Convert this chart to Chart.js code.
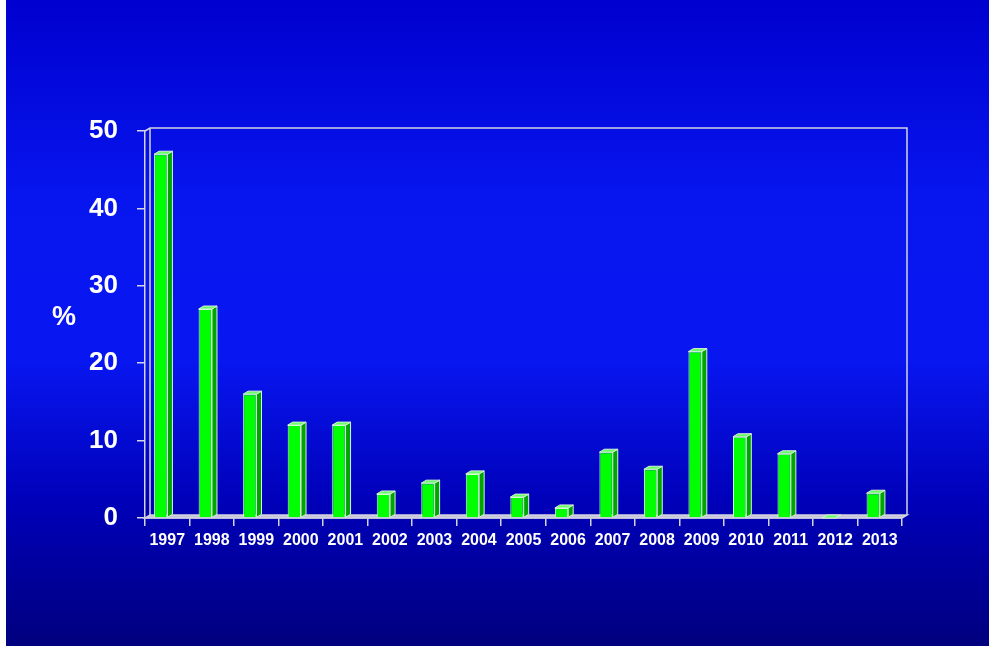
<!DOCTYPE html>
<html>
<head>
<meta charset="utf-8">
<script src="https://cdn.jsdelivr.net/npm/chart.js@4/dist/chart.umd.min.js"></script>
<style>
  html, body { margin: 0; padding: 0; background: #ffffff; }
  #wrap { position: absolute; left: 6px; top: 0; width: 983px; height: 646px; }
</style>
</head>
<body>
<div id="wrap"><canvas id="chart-1"></canvas></div>
<script>
var years = ["1997", "1998", "1999", "2000", "2001", "2002", "2003", "2004", "2005",
    "2006", "2007", "2008", "2009", "2010", "2011", "2012", "2013"];
var percent_values = [47, 27, 16, 12, 12, 3.1, 4.5, 5.7, 2.7, 1.3, 8.5, 6.3, 21.5, 10.5, 8.3, 0, 3.2];
var y_min = 0;
var y_max = 50;
var y_step = 10;

var depth_x = 5;
var depth_y = 3;
var bar_shift = -6.5;
var line_color = "#d4d4e4";

// background + 3d box + bar sides
var box3d = {
    id: "box3d",
    beforeDraw: function(chart) {
        var c = chart.ctx;
        var g = c.createLinearGradient(0, 0, 0, chart.height);
        g.addColorStop(0, "#0000cf");
        g.addColorStop(0.3, "#0715ee");
        g.addColorStop(0.55, "#0817f2");
        g.addColorStop(0.78, "#0000b8");
        g.addColorStop(1, "#00007e");
        c.save();
        c.fillStyle = g;
        c.fillRect(0, 0, chart.width, chart.height);
        c.restore();
    },
    beforeDatasetsDraw: function(chart) {
        var c = chart.ctx;
        var a = chart.chartArea;
        c.save();
        c.strokeStyle = line_color;
        c.lineWidth = 1.5;
        // floor
        c.fillStyle = "#c4c4d8";
        c.beginPath();
        c.moveTo(a.left, a.bottom);
        c.lineTo(a.right, a.bottom);
        c.lineTo(a.right + depth_x, a.bottom - depth_y);
        c.lineTo(a.left + depth_x, a.bottom - depth_y);
        c.closePath();
        c.fill();
        c.stroke();
        // left wall + back frame
        c.beginPath();
        c.moveTo(a.left, a.top);
        c.lineTo(a.left + depth_x, a.top - depth_y);
        c.lineTo(a.right + depth_x, a.top - depth_y);
        c.lineTo(a.right + depth_x, a.bottom - depth_y);
        c.moveTo(a.left + depth_x, a.top - depth_y);
        c.lineTo(a.left + depth_x, a.bottom - depth_y);
        c.stroke();
        c.restore();
        // bars are drawn a little left of the category centre
        c.save();
        c.translate(bar_shift, 0);
    },
    afterDatasetsDraw: function(chart) {
        var c = chart.ctx;
        var bars = chart.getDatasetMeta(0).data;
        c.lineWidth = 1;
        c.strokeStyle = "#d8f0d8";
        for (let i = 0; i < bars.length; i++) {
            var b = bars[i];
            var left = b.x - b.width / 2;
            var right = b.x + b.width / 2;
            // side
            c.fillStyle = "#00a600";
            c.beginPath();
            c.moveTo(right, b.y);
            c.lineTo(right + depth_x, b.y - depth_y);
            c.lineTo(right + depth_x, b.base - depth_y);
            c.lineTo(right, b.base);
            c.closePath();
            c.fill();
            c.stroke();
            // top
            c.fillStyle = "#66ff66";
            c.beginPath();
            c.moveTo(left, b.y);
            c.lineTo(right, b.y);
            c.lineTo(right + depth_x, b.y - depth_y);
            c.lineTo(left + depth_x, b.y - depth_y);
            c.closePath();
            c.fill();
            c.stroke();
        }
        c.restore();
        // % label
        c.save();
        c.fillStyle = "#ffffff";
        c.font = "bold 27px 'Liberation Sans', Arial, sans-serif";
        c.textAlign = "center";
        c.textBaseline = "middle";
        c.fillText("%", 58, 318);
        c.restore();
    }
};

var ctx = document.getElementById("chart-1").getContext("2d");
var myChart = new Chart(ctx, {
    type: "bar",
    data: {
        labels: years,
        datasets: [{
            label: "%",
            data: percent_values,
            backgroundColor: "#00ff00",
            borderColor: "#d8ffd8",
            borderWidth: 1,
            borderSkipped: "bottom",
            barPercentage: 0.3,
            categoryPercentage: 1.0,
        }],
    },
    options: {
        responsive: true,
        maintainAspectRatio: false,
        animation: false,
        layout: {
            padding: { left: 0, top: 131, right: 87, bottom: 0 },
        },
        plugins: {
            legend: { display: false },
            tooltip: { enabled: false },
        },
        scales: {
            x: {
                offset: true,
                grid: {
                    offset: true,
                    drawOnChartArea: false,
                    drawTicks: true,
                    tickLength: 8,
                    color: line_color,
                    lineWidth: 1.5,
                },
                border: { display: true, color: line_color, width: 1.5 },
                ticks: {
                    color: "#ffffff",
                    padding: 5,
                    maxRotation: 0,
                    autoSkip: false,
                    font: { family: "'Liberation Sans', Arial, sans-serif", size: 16, weight: "bold" },
                },
                afterFit: function(scale) {
                    scale.height = 128;
                },
            },
            y: {
                min: y_min,
                max: y_max,
                grid: {
                    drawOnChartArea: false,
                    drawTicks: true,
                    tickLength: 8,
                    color: line_color,
                    lineWidth: 1.5,
                },
                border: { display: true, color: line_color, width: 1.5 },
                ticks: {
                    stepSize: y_step,
                    color: "#ffffff",
                    padding: 19,
                    font: { family: "'Liberation Sans', Arial, sans-serif", size: 26, weight: "bold" },
                },
                afterFit: function(scale) {
                    scale.width = 139;
                },
            },
        },
    },
    plugins: [box3d],
});
</script>
</body>
</html>
